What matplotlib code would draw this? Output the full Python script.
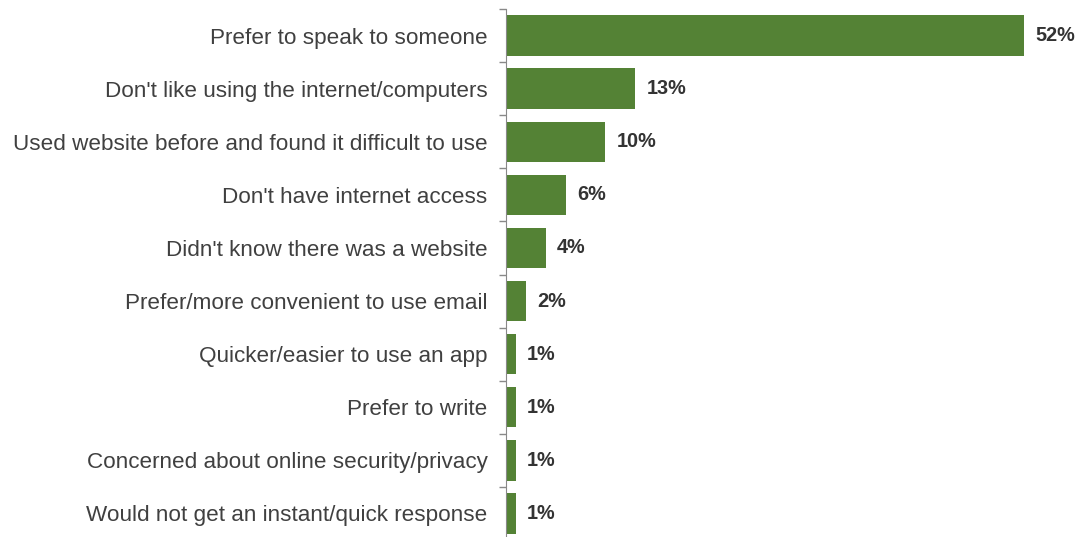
import numpy as np
import matplotlib.pyplot as plt

plt.rcParams['font.family'] = ['Liberation Sans', 'DejaVu Sans']

reasons = [
    "Prefer to speak to someone",
    "Don't like using the internet/computers",
    "Used website before and found it difficult to use",
    "Don't have internet access",
    "Didn't know there was a website",
    "Prefer/more convenient to use email",
    "Quicker/easier to use an app",
    "Prefer to write",
    "Concerned about online security/privacy",
    "Would not get an instant/quick response",
]
values = [52, 13, 10, 6, 4, 2, 1, 1, 1, 1]

fig = plt.figure(figsize=(10.83, 5.37), dpi=100)
ax = fig.add_axes([0.467, -3 / 537, 0.533, 1 - 6 / 537])

y = np.arange(len(reasons))
ax.barh(y, values, height=0.76, color='#548235')
for yi, v in zip(y, values):
    ax.text(v + 1.15, yi, f"{v}%", va='center', ha='left', fontsize=14.3,
            fontweight='bold', color='#333333')

ax.set_ylim(len(reasons) - 0.5, -0.5)
ax.set_xlim(0, 57.9)
ax.set_yticks(y)
ax.set_yticklabels(reasons, fontsize=16.2, color='#404040')
ax.set_yticks(np.arange(-0.5, len(reasons), 1), minor=True)
ax.tick_params(axis='y', which='major', length=0, pad=13)
ax.tick_params(axis='y', which='minor', length=5, color='#898989', width=1)
ax.set_xticks([])
for s in ['top', 'right', 'bottom']:
    ax.spines[s].set_visible(False)
ax.spines['left'].set_color('#898989')

fig.savefig('out.png', dpi=100)
